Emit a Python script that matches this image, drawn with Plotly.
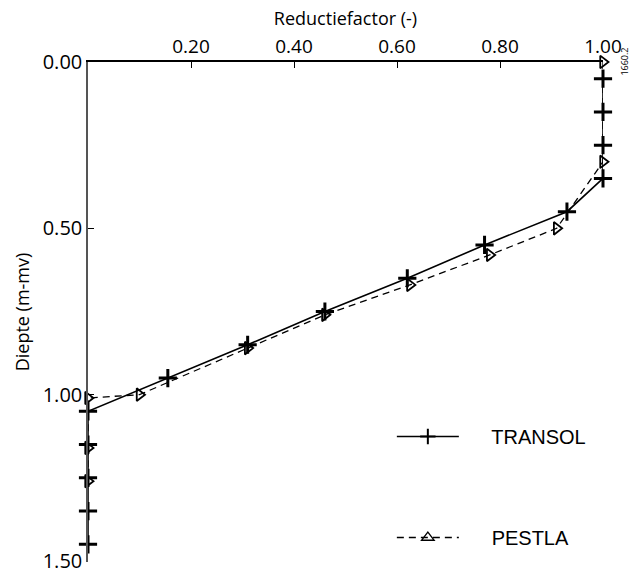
import plotly.graph_objects as go

# TRANSOL series (depth in m-mv, reduction factor)
transol_depth = [0.05, 0.15, 0.25, 0.35, 0.45, 0.55, 0.65, 0.75, 0.85, 0.95, 1.05, 1.15, 1.25, 1.35, 1.45]
transol_factor = [1.00, 1.00, 1.00, 1.00, 0.93, 0.77, 0.62, 0.46, 0.31, 0.155, 0.0, 0.0, 0.0, 0.0, 0.0]

# PESTLA series
pestla_depth = [0.00, 0.30, 0.50, 0.58, 0.67, 0.76, 0.86, 1.00, 1.01, 1.16, 1.26]
pestla_factor = [1.00, 1.00, 0.91, 0.78, 0.625, 0.46, 0.31, 0.10, 0.0, 0.0, 0.0]

x_ticks = [0.20, 0.40, 0.60, 0.80, 1.00]
y_ticks = [0.00, 0.50, 1.00, 1.50]

fig = go.Figure()

fig.add_trace(go.Scatter(
    x=pestla_factor, y=pestla_depth, mode="lines+markers", name="PESTLA",
    line=dict(color="black", width=1.3, dash="7px,5px"),
    marker=dict(symbol="triangle-right-open", size=11, color="black", line=dict(width=1.8)),
    cliponaxis=False, showlegend=False))

fig.add_trace(go.Scatter(
    x=transol_factor, y=transol_depth, mode="lines+markers", name="TRANSOL",
    line=dict(color="black", width=1.6),
    marker=dict(symbol="cross-thin", size=13, color="black", line=dict(width=3, color="black")),
    cliponaxis=False, showlegend=False))

# legend-only entries
fig.add_trace(go.Scatter(
    x=[None], y=[None], mode="lines+markers", name="     TRANSOL", legendgroup="a",
    line=dict(color="black", width=1.6),
    marker=dict(symbol="cross-thin", size=11, color="black", line=dict(width=2, color="black"))))
fig.add_trace(go.Scatter(
    x=[None], y=[None], mode="lines+markers", name="     PESTLA", legendgroup="b",
    line=dict(color="black", width=1.3, dash="7px,5px"),
    marker=dict(symbol="triangle-up-open", size=11, color="black", line=dict(width=1.3))))

fig.update_layout(
    width=634, height=576,
    margin=dict(l=88, r=31, t=62, b=14),
    plot_bgcolor="white", paper_bgcolor="white",
    font=dict(family="Open Sans", size=16, color="black"),
    showlegend=True,
    legend=dict(x=0.59, y=0.29, xanchor="left", yanchor="top",
                font=dict(family="Liberation Sans", size=20, color="black"),
                itemwidth=62, tracegroupgap=72, bgcolor="rgba(0,0,0,0)"),
    xaxis=dict(side="top", range=[0, 1.0], tickvals=x_ticks, tickformat=".2f",
               showline=True, linecolor="black", linewidth=1.5, ticks="inside",
               ticklen=6, tickcolor="black", showgrid=False, zeroline=False,
               tickfont=dict(size=19), ticklabeloverflow="allow", automargin=False,
               title=dict(text="Reductiefactor (-)", font=dict(size=18), standoff=2)),
    yaxis=dict(range=[1.503, 0], tickvals=y_ticks, tickformat=".2f",
               showline=True, linecolor="#555", linewidth=1.5, ticks="inside",
               ticklen=6, tickcolor="black", showgrid=False, zeroline=False,
               tickfont=dict(size=20), ticklabeloverflow="allow", automargin=False,
               title=dict(text="Diepte (m-mv)", font=dict(size=18), standoff=8)),
)

fig.add_annotation(text="1660.2", xref="paper", yref="paper", x=1.04, y=1.0,
                   showarrow=False, textangle=-90, font=dict(size=9, family="Open Sans"),
                   xanchor="center", yanchor="middle")

fig.write_html("out.html")
